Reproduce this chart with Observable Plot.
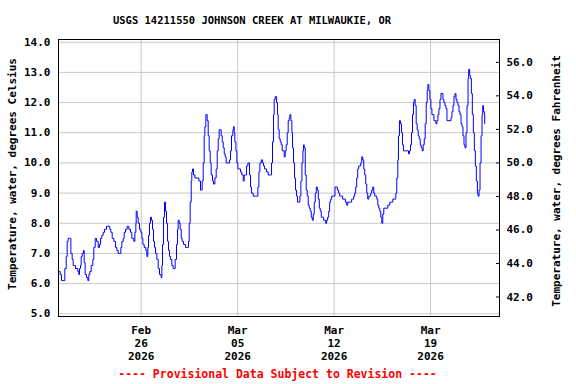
<!DOCTYPE html>
<html><head><meta charset="utf-8">
<script src="https://cdn.jsdelivr.net/npm/d3@7"></script>
<script src="https://cdn.jsdelivr.net/npm/@observablehq/plot@0.6"></script>
<style>
body{margin:0;background:#fff;}
#wrap{position:relative;width:576px;height:384px;font-family:"DejaVu Sans Mono",monospace;font-weight:bold;background:#fff;}
#title{position:absolute;top:13px;left:0;width:504px;text-align:center;font-size:10.5px;line-height:14px;}
#chart{position:absolute;top:30px;left:0;}
#caption{position:absolute;top:367px;left:0;width:555px;text-align:center;font-size:11.5px;color:#f00;line-height:15px;}
</style></head>
<body>
<div id="wrap">
  <div id="title"></div>
  <div id="chart"></div>
  <div id="caption"></div>
</div>
<script>
const titleText = "USGS 14211550 JOHNSON CREEK AT MILWAUKIE, OR";
const captionText = "---- Provisional Data Subject to Revision ----";
const yLabelC = "Temperature, water, degrees Celsius";
const yLabelF = "Temperature, water, degrees Fahrenheit";
const startDate = "2026-02-20T00:00Z";
const xDomain = ["2026-02-20T00:00Z", "2026-03-24T00:00Z"];
const tickDates = ["2026-02-26T00:00Z", "2026-03-05T00:00Z", "2026-03-12T00:00Z", "2026-03-19T00:00Z"];
const celsiusTicks = [5, 6, 7, 8, 9, 10, 11, 12, 13, 14];
const fahrenheitTicks = [42, 44, 46, 48, 50, 52, 54, 56];

// hours after 2026-02-20 00:00 UTC, first half
const hoursA = [
  0.6,2.9,5.2,9.3,11.0,13.4,15.1,16.8,19.7,21.5,
  23.8,25.5,28.4,29.6,32.5,33.7,35.4,36.6,38.3,39.5,
  41.2,43.5,44.7,46.4,48.8,51.1,52.8,54.6,56.9,59.8,
  61.5,63.9,66.2,69.1,71.4,73.2,75.5,77.8,80.1,83.6,
  89.4,91.2,93.5,96.4,99.3,101.6,103.9,106.8,108.6,110.3,
  112.6,114.4,116.7,119.6,122.5,125.4,127.7,131.2,133.0,134.7,
  135.3,137.0,138.8,141.1,143.4,145.2,146.9,149.2,152.1,153.9,
  155.6,156.8,158.5,160.2,162.0,163.7,165.5,167.2,169.0,171.3,
  173.6,175.9,178.8,180.0,181.1,182.9,184.6,186.4,188.1,189.9,
  191.6,193.3,195.1,197.4,199.7,201.5,203.2,205.5,207.3,208.4,
  210.2,211.9,213.7,215.4,217.7,221.2,224.7,226.4,227.6,229.3,
  231.1,232.2,233.4,235.1,237.5,241.5,244.4,247.3,250.2,252.0,
  253.7,254.9,256.6,258.9,260.7,262.4,264.2,265.9,268.2,270.0,
  272.3,274.6,276.4,278.1,279.8,282.2,283.3,285.1,286.8,288.6,
  290.3,292.0,295.5,297.9,299.6,301.3,303.7,304.8,306.0,307.1,
  308.9,310.6,312.4,314.1,317.0,319.3,321.7,323.4,325.7,327.5,
  329.8,331.5,332.7,334.4,336.2,339.1,343.1,345.5,347.2,349.0,
  350.7,353.0,355.4,357.1,358.8,362.3,365.2,369.3,371.0,372.7,
  374.5,375.6,377.4
];
const tempA = [
  6.4,6.3,6.1,6.1,6.5,6.9,7.4,7.5,7.5,7.0,
  6.8,6.6,6.6,6.5,6.5,6.4,6.3,6.5,6.6,6.9,
  7.0,7.1,6.7,6.3,6.2,6.1,6.3,6.4,6.6,6.8,
  7.2,7.5,7.4,7.2,7.3,7.5,7.6,7.7,7.8,7.9,
  7.8,7.7,7.5,7.4,7.2,7.1,7.0,7.0,7.2,7.4,
  7.5,7.7,7.8,7.9,7.8,7.7,7.5,7.4,7.7,8.0,
  8.4,8.2,8.0,7.8,7.7,7.5,7.3,7.2,7.1,6.9,
  7.2,7.6,8.0,8.2,8.1,7.8,7.4,7.2,7.0,6.8,
  6.5,6.3,6.2,6.6,7.3,8.2,8.7,8.4,8.0,7.4,
  7.1,6.9,6.8,6.6,6.5,6.5,6.8,7.3,7.8,8.1,
  8.0,7.8,7.5,7.4,7.3,7.2,7.2,7.4,8.0,8.7,
  9.4,9.7,9.8,9.6,9.5,9.5,9.4,9.1,9.4,10.0,
  10.9,11.2,11.6,11.4,10.9,10.4,10.0,9.6,9.4,9.3,
  9.5,9.8,10.4,10.8,11.1,11.1,10.9,10.7,10.5,10.3,
  10.2,10.0,10.0,10.1,10.4,10.9,11.1,11.2,11.0,10.7,
  10.4,10.0,9.8,9.8,9.7,9.6,9.4,9.6,9.6,9.9,
  10.0,10.0,9.6,9.2,9.0,8.9,8.9,8.9,9.2,9.7,
  10.0,10.1,10.0,9.9,9.8,9.7,9.6,9.6,10.0,10.7,
  11.6,12.1,12.2
];
// second half
const hoursB = [
  378.5,379.7,381.4,382.6,384.3,386.1,387.8,389.6,391.3,393.1,
  394.8,396.5,398.3,400.0,401.8,402.9,404.7,406.4,407.6,409.3,
  411.1,412.8,414.6,416.3,418.6,420.4,422.1,423.9,425.6,426.8,
  427.9,429.7,431.4,433.2,434.9,436.7,438.4,440.2,441.9,443.7,
  445.4,447.2,448.9,450.7,452.4,454.2,455.9,457.6,460.0,461.7,
  463.5,465.2,467.0,468.7,470.5,472.2,474.0,475.7,477.5,479.2,
  481.5,483.6,485.6,487.9,489.7,491.4,493.2,494.9,497.2,499.6,
  501.9,503.6,508.3,510.6,512.3,514.1,515.8,517.6,519.3,521.1,
  522.8,524.6,526.3,528.1,529.8,531.6,533.3,535.1,536.8,538.5,
  540.3,542.0,543.8,545.5,547.3,549.0,550.8,552.5,554.3,556.0,
  557.8,559.5,561.3,563.0,564.7,566.5,570.0,573.5,576.9,580.4,
  582.2,585.6,587.4,589.1,590.9,592.0,593.8,595.5,597.3,599.0,
  600.8,607.7,609.5,611.2,613.0,614.7,616.5,618.2,619.4,621.1,
  622.9,624.6,626.4,628.1,629.9,631.6,633.4,635.1,636.9,638.6,
  640.4,642.1,643.3,645.0,646.8,648.5,650.3,652.0,653.8,655.5,
  657.3,659.0,660.8,662.5,664.3,666.0,667.7,669.5,671.2,673.0,
  674.7,676.5,681.7,683.5,685.2,687.0,688.7,690.5,692.2,694.0,
  695.7,697.5,699.2,701.0,702.7,704.4,706.2,707.9,709.7,711.4,
  713.2,714.3,716.1,717.2,719.0,720.7,722.5,724.2,726.0,727.7,
  729.5,730.6,732.4,734.1,735.9,737.6,738.8,740.0,741.7,742.3
];
const tempB = [
  12.2,12.0,11.6,11.1,10.8,10.7,10.6,10.4,10.4,10.2,
  10.4,10.6,11.0,11.4,11.5,11.6,11.4,11.0,10.5,10.0,
  9.5,9.1,8.9,8.7,8.7,8.9,9.4,10.0,10.4,10.6,
  10.5,9.6,9.1,8.9,8.6,8.5,8.4,8.2,8.1,8.3,
  8.7,9.0,9.2,9.1,8.8,8.5,8.4,8.2,8.2,8.1,
  8.1,8.0,8.1,8.2,8.4,8.7,8.8,8.9,8.9,8.9,
  9.2,9.2,9.1,9.0,8.9,8.9,8.9,8.8,8.8,8.7,
  8.6,8.7,8.7,8.8,8.8,8.9,9.0,9.2,9.5,9.8,
  9.9,9.9,10.0,10.2,10.1,9.8,9.6,9.3,9.0,8.8,
  8.9,8.9,9.0,9.1,9.2,9.0,8.9,8.9,8.8,8.6,
  8.5,8.4,8.2,8.0,8.3,8.5,8.5,8.6,8.7,8.7,
  8.8,8.8,9.0,9.5,10.1,10.9,11.4,11.3,11.0,10.6,
  10.4,10.4,10.3,10.4,10.6,11.0,11.6,12.0,12.1,11.9,
  11.3,11.1,10.9,10.8,10.6,10.5,10.4,10.6,10.8,11.3,
  12.0,12.4,12.6,12.4,12.1,11.8,11.6,11.6,11.4,11.4,
  11.3,11.4,11.6,11.8,12.1,12.3,12.3,12.1,12.0,11.9,
  11.8,11.4,11.4,11.5,11.7,11.9,12.2,12.3,12.1,12.0,
  11.9,11.7,11.6,11.3,11.2,10.9,10.6,10.5,11.0,11.9,
  12.8,13.1,12.9,12.8,12.3,11.6,11.0,10.4,9.9,9.4,
  9.0,8.9,9.1,10.0,10.9,11.6,11.9,11.7,11.6,11.3
];

if (hoursA.length !== tempA.length || hoursB.length !== tempB.length) {
  throw new Error("length mismatch " + hoursA.length + "/" + tempA.length + " " + hoursB.length + "/" + tempB.length);
}

const t0 = new Date(startDate).getTime();
const hours = hoursA.concat(hoursB);
const temps = tempA.concat(tempB);
const data = hours.map((h, i) => ({date: new Date(t0 + h * 3600e3), temp: temps[i]}));
const toDate = s => new Date(s);
const cToF = c => c * 9 / 5 + 32;
const fToC = f => (f - 32) * 5 / 9;

document.getElementById("title").textContent = titleText;
document.getElementById("caption").textContent = captionText;

const chart = Plot.plot({
  width: 576,
  height: 336,
  marginTop: 9,
  marginBottom: 50,
  marginLeft: 58,
  marginRight: 77,
  style: {fontFamily: "'DejaVu Sans Mono', monospace", fontWeight: "bold", fontSize: "11px", background: "white", overflow: "visible", color: "black"},
  x: {type: "utc", domain: xDomain.map(toDate)},
  y: {domain: [4.91, 14.09]},
  marks: [
    Plot.gridX(tickDates.map(toDate), {stroke: "#c8c8c8", strokeOpacity: 1}),
    Plot.gridY(celsiusTicks, {stroke: "#c8c8c8", strokeOpacity: 1}),
    Plot.lineY(data, {x: "date", y: "temp", stroke: "#0000ff", strokeWidth: 1, curve: "step-after"}),
    Plot.frame({stroke: "black"}),
    Plot.axisY(celsiusTicks, {anchor: "left", tickSize: 0, tickPadding: 8, tickFormat: d => d.toFixed(1), label: null}),
    Plot.axisY(fahrenheitTicks.map(fToC), {anchor: "right", tickSize: -4, tickPadding: 11, tickFormat: c => cToF(c).toFixed(1), label: null}),
    Plot.axisX(tickDates.map(toDate), {tickSize: 0, tickPadding: 8, tickFormat: d3.utcFormat("%b\n%d\n%Y"), lineHeight: 1.2, label: null}),
    Plot.text([yLabelC], {frameAnchor: "left", textAnchor: "middle", lineAnchor: "middle", dx: -46, dy: -4, rotate: -90, text: d => d}),
    Plot.text([yLabelF], {frameAnchor: "right", textAnchor: "middle", lineAnchor: "middle", dx: 57, dy: 3, rotate: -90, text: d => d})
  ]
});
document.getElementById("chart").appendChild(chart);
</script>
</body></html>
